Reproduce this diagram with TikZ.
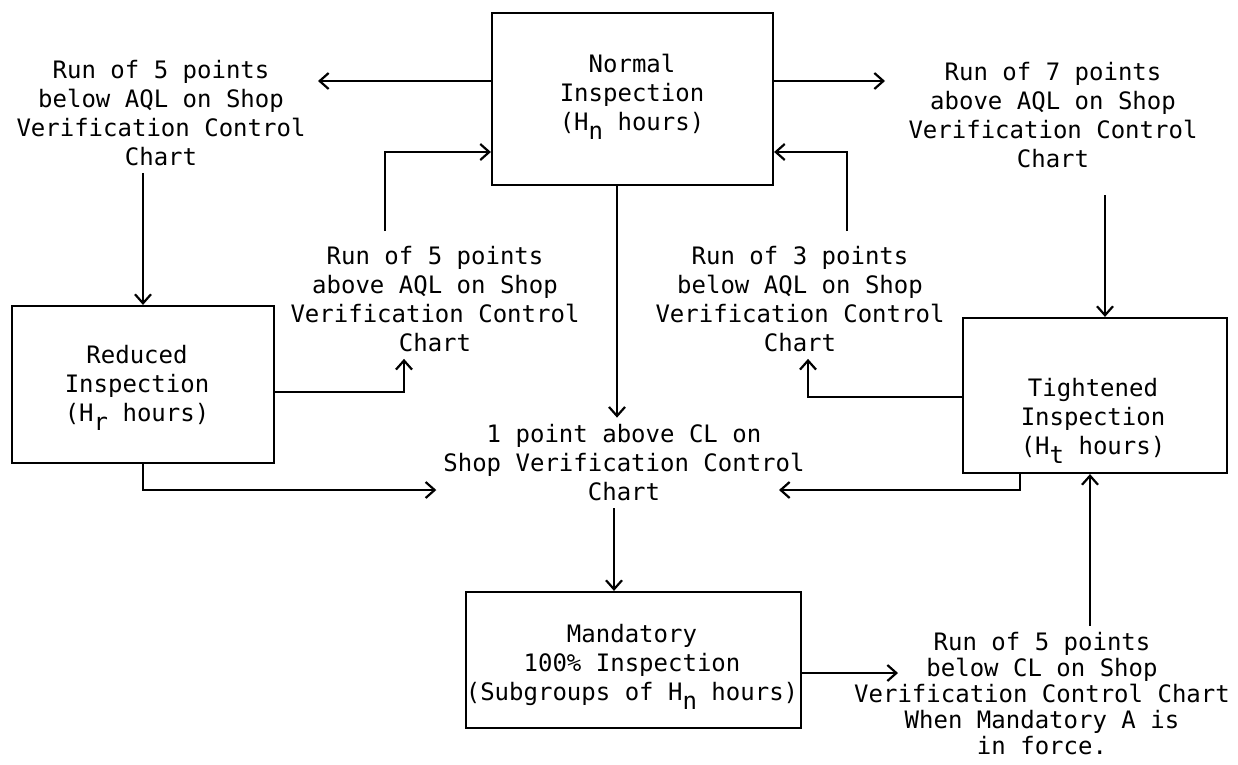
\documentclass[tikz,border=0pt]{standalone}
\usepackage{fontspec}
\newfontfamily\gothic{DejaVu Sans Mono}
\usetikzlibrary{arrows.meta,calc}
\newcommand{\low}[1]{\smash{\lower9pt\hbox{#1}}}
\tikzset{
	box/.style={draw,line width=2.2pt,inner sep=0pt},
	note/.style={align=center,inner sep=6pt},
}
\begin{document}
\begin{tikzpicture}[x=1pt,y=-1pt,line width=2.2pt,>={Straight Barb[length=9pt,width=16pt]},font=\gothic\fontsize{24}{29}\selectfont]
		\useasboundingbox (0,0) rectangle (1238,764);
		% the four boxes
		\node[box,minimum width=281pt,minimum height=172pt](normal) at (632.5,99){};
		\node[box,minimum width=262pt,minimum height=157pt](reduced) at (143,384.5){};
		\node[box,minimum width=264pt,minimum height=155pt](tightened) at (1095,395.5){};
		\node[box,minimum width=335pt,minimum height=136pt](mandatory) at (633.5,660){};
		\node[note](normaltxt) at (632,94){Normal\\Inspection\\(H\low{n} hours)};
		\node[note](reducedtxt) at (137,385){Reduced\\Inspection\\(H\low{r} hours)};
		\node[note](tightenedtxt) at (1093,418){Tightened\\Inspection\\(H\low{t} hours)};
		\node[note](mandatorytxt) at (632,665){Mandatory\\100\% Inspection\\(Subgroups of H\low{n} hours)};
		% conditions
		\node[note](below5) at (161,113){Run of 5 points\\below AQL on Shop\\Verification Control\\Chart};
		\node[note](above7) at (1053,115){Run of 7 points\\above AQL on Shop\\Verification Control\\Chart};
		\node[note](above5) at (435,299){Run of 5 points\\above AQL on Shop\\Verification Control\\Chart};
		\node[note](below3) at (800,299){Run of 3 points\\below AQL on Shop\\Verification Control\\Chart};
		\node[note](point1) at (624,463){1 point above CL on\\Shop Verification Control\\Chart};
		\node[note,font=\gothic\fontsize{24}{26}\selectfont](belowCL) at (1042,694){Run of 5 points\\below CL on Shop\\Verification Control Chart\\When Mandatory A is\\in force.};
		% switching rules
		\draw[->] (normal.west |- 0,81) -- (318,81);
		\draw[->] (normal.east |- 0,81) -- (885,81);
		\draw[->] (reduced.north |- below5.south) -- (reduced.north);
		\draw[->] (1105,195) -- (tightened.north -| 1105,0);
		\draw[->] (reduced.east |- 0,392) -| ($(above5.south)+(-31,0)$);
		\draw[->] (tightened.west |- 0,397) -| ($(below3.south)+(8,0)$);
		\draw[->] ($(above5.north)+(-50,-8)$) |- (normal.west |- 0,152);
		\draw[->] ($(below3.north)+(47,-8)$) |- (normal.east |- 0,152);
		\draw[->] (normal.south -| 617,0) -- (point1.north -| 617,0);
		\draw[->] (reduced.south) |- (point1.west |- 0,490);
		\draw[->] (tightened.south -| 1020,0) |- ($(point1.center)+(155,27)$);
		\draw[->] (point1.south -| 614,0) -- (mandatory.north -| 614,0);
		\draw[->] (mandatory.east |- 0,673) -- (898,673);
		\draw[->] (belowCL.north -| 1090,0) -- (tightened.south -| 1090,0);
\end{tikzpicture}
\end{document}
